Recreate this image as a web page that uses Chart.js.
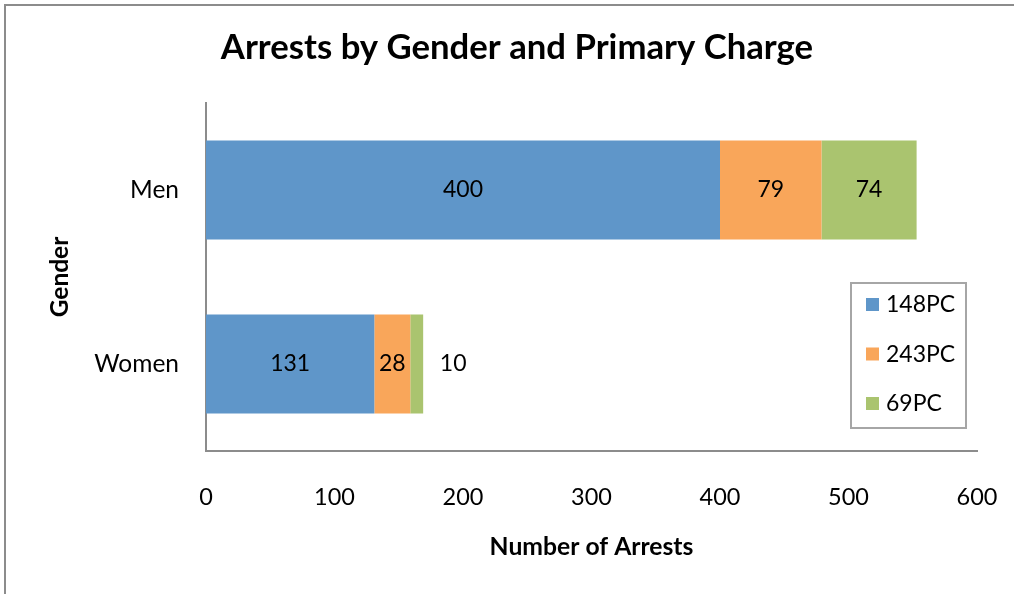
<!DOCTYPE html>
<html>
<head>
<meta charset="utf-8">
<script src="https://cdn.jsdelivr.net/npm/chart.js@4"></script>
<style>
  html, body { margin: 0; padding: 0; background: #fff; }
  #wrap { position: relative; width: 1014px; height: 594px; overflow: hidden; }
  #frame { position: absolute; left: 4px; top: 4px; width: 1020px; height: 600px;
           border-left: 2px solid #8c8c8c; border-top: 2px solid #8c8c8c; box-sizing: border-box; }
  canvas { position: absolute; left: 0; top: 0; }
</style>
</head>
<body>
<div id="wrap">
  <div id="frame"></div>
  <canvas id="chart" width="1014" height="594"></canvas>
</div>
<script>
const genders = ['Men', 'Women'];
const charges = ['148PC', '243PC', '69PC'];
const arrests148 = [400, 131];
const arrests243 = [79, 28];
const arrests69 = [74, 10];
const xTicks = [0, 100, 200, 300, 400, 500, 600];
const colors = ['#5f96c9', '#f9a65a', '#aac46f'];
const chartTitle = 'Arrests by Gender and Primary Charge';

const FONT = 'Lato, "Open Sans", sans-serif';

// main title, centred on the page width like the original
const pageTitle = {
  id: 'pageTitle',
  afterDraw(chart) {
    const ctx = chart.ctx;
    ctx.save();
    ctx.font = 'bold 34.7px ' + FONT;
    ctx.fillStyle = '#000';
    ctx.textAlign = 'center';
    ctx.textBaseline = 'middle';
    ctx.fillText(chartTitle, 517, 48);
    ctx.restore();
  }
};

// value labels inside the bars, pushed out to the right when the bar is too thin
const barLabels = {
  id: 'barLabels',
  afterDatasetsDraw(chart) {
    const ctx = chart.ctx;
    ctx.save();
    ctx.font = '23px ' + FONT;
    ctx.fillStyle = '#000';
    ctx.textAlign = 'center';
    ctx.textBaseline = 'middle';
    chart.data.datasets.forEach((ds, i) => {
      chart.getDatasetMeta(i).data.forEach((bar, j) => {
        const txt = String(ds.data[j]);
        const w = Math.abs(bar.x - bar.base);
        let x = (bar.x + bar.base) / 2;
        if (w < ctx.measureText(txt).width + 4) x = bar.x + 30;
        ctx.fillText(txt, x, bar.y);
      });
    });
    ctx.restore();
  }
};

// boxed legend sitting inside the plot, like the original
const boxLegend = {
  id: 'boxLegend',
  afterDraw(chart) {
    const ctx = chart.ctx;
    const left = 851, top = 283, w = 115, h = 145;
    ctx.save();
    ctx.strokeStyle = '#a6a6a6';
    ctx.lineWidth = 2;
    ctx.fillStyle = '#fff';
    ctx.fillRect(left, top, w, h);
    ctx.strokeRect(left, top, w, h);
    ctx.font = '23px ' + FONT;
    ctx.textBaseline = 'middle';
    ctx.textAlign = 'left';
    chart.data.datasets.forEach((ds, i) => {
      const y = top + 22 + i * 49.5;
      ctx.fillStyle = ds.backgroundColor;
      ctx.fillRect(left + 15, y - 7, 13, 13);
      ctx.fillStyle = '#000';
      ctx.fillText(ds.label, left + 35, y);
    });
    ctx.restore();
  }
};

new Chart(document.getElementById('chart'), {
  type: 'bar',
  data: {
    labels: genders,
    datasets: [
      { label: charges[0], data: arrests148, backgroundColor: colors[0] },
      { label: charges[1], data: arrests243, backgroundColor: colors[1] },
      { label: charges[2], data: arrests69, backgroundColor: colors[2] }
    ]
  },
  options: {
    indexAxis: 'y',
    responsive: false,
    animation: false,
    layout: { padding: { left: 0, right: 0, top: 103, bottom: 0 } },
    datasets: { bar: { categoryPercentage: 1, barPercentage: 0.57, borderWidth: 0 } },
    plugins: {
      legend: { display: false },
      tooltip: { enabled: false },
      title: { display: false }
    },
    scales: {
      x: {
        stacked: true,
        min: 0,
        max: 600,
        afterBuildTicks: (s) => { s.ticks = xTicks.map(v => ({ value: v })); },
        afterFit: (s) => {
          s.height = 143;
          s.paddingLeft = 0;
          s.paddingRight = 37;
        },
        grid: { display: false, drawTicks: false },
        border: { display: true, color: '#8c8c8c', width: 2 },
        ticks: { color: '#000', padding: 32, font: { family: FONT, size: 23.5 } },
        title: {
          display: true,
          text: 'Number of Arrests',
          color: '#000',
          font: { family: FONT, size: 24.7, weight: 'bold', lineHeight: 1.2 },
          padding: { top: 0, bottom: 32.2 }
        }
      },
      y: {
        stacked: true,
        afterFit: (s) => { s.width = 206; },
        grid: { display: false, drawTicks: false },
        border: { display: true, color: '#8c8c8c', width: 2 },
        ticks: { color: '#000', padding: 27, font: { family: FONT, size: 24.5 } },
        title: {
          display: true,
          text: 'Gender',
          color: '#000',
          font: { family: FONT, size: 24.5, weight: 'bold', lineHeight: 1.2 },
          padding: { top: 45.3, bottom: 0 }
        }
      }
    }
  },
  plugins: [barLabels, boxLegend, pageTitle]
});
</script>
</body>
</html>
